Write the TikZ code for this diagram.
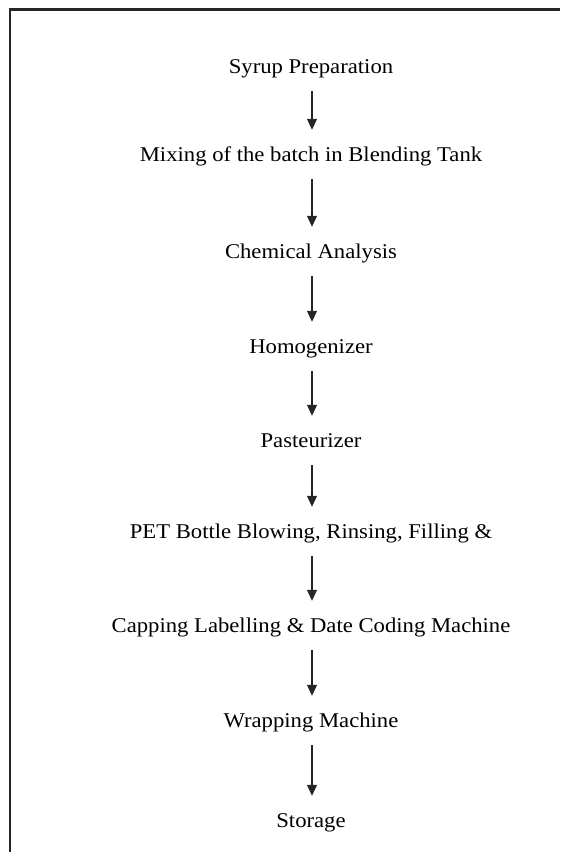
\documentclass[tikz,border=0pt]{standalone}
\usepackage{fontspec}
\setmainfont{Liberation Serif}[FakeStretch=1.08]
\usetikzlibrary{arrows.meta}
\begin{document}
\begin{tikzpicture}[x=1pt,y=-1pt,
  stepnode/.style={inner sep=0pt, anchor=base, text height=14pt, text depth=4pt, font=\fontsize{21}{24}\selectfont},
  flowarrow/.style={draw=black!85, line width=1.1pt, -{Triangle[width=10pt,length=11pt]}, shorten <=14pt, shorten >=17pt},
  frameline/.style={draw=black!85, line width=2.2pt}]
\useasboundingbox (0,0) rectangle (560,852);
\coordinate (ftr) at (560,9.5);
\coordinate (ftl) at (10,9.5);
\coordinate (fbl) at (10,852);
\draw[frameline] (ftr) -- (ftl) -- (fbl);
\node[stepnode] (s1) at (311,73) {Syrup Preparation};
\node[stepnode] (s2) at (311,161) {Mixing of the batch in Blending Tank};
\node[stepnode] (s3) at (311,258) {Chemical Analysis};
\node[stepnode] (s4) at (311,353) {Homogenizer};
\node[stepnode] (s5) at (311,447) {Pasteurizer};
\node[stepnode] (s6) at (311,538) {PET Bottle Blowing, Rinsing, Filling \&};
\node[stepnode] (s7) at (311,632) {Capping Labelling \& Date Coding Machine};
\node[stepnode] (s8) at (311,727) {Wrapping Machine};
\node[stepnode] (s9) at (311,827) {Storage};
\foreach \a/\b in {s1/s2,s2/s3,s3/s4,s4/s5,s5/s6,s6/s7,s7/s8,s8/s9}
  \draw[flowarrow] ([xshift=1pt]\a.south) -- ([xshift=1pt]\b.north);
\end{tikzpicture}
\end{document}
